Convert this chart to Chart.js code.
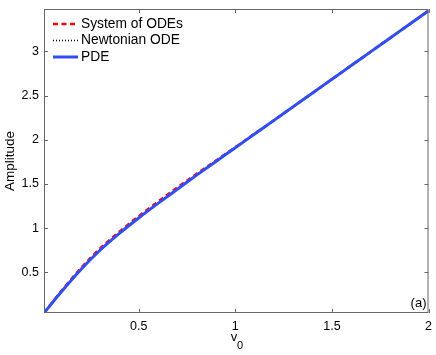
<!DOCTYPE html>
<html>
<head>
<meta charset="utf-8">
<script src="https://cdn.jsdelivr.net/npm/chart.js@4.4.0/dist/chart.umd.min.js"></script>
<style>
  html, body { margin: 0; padding: 0; background: #fff; }
</style>
</head>
<body>
<canvas id="ampChart" width="436" height="355"></canvas>
<script>
// initial velocity v0 and the resulting amplitude
const vValues = [0.01, 0.1, 0.2, 0.3, 0.4, 0.5, 0.6, 0.7, 0.8, 0.9, 1.0,
                 1.1, 1.2, 1.3, 1.4, 1.5, 1.6, 1.7, 1.8, 1.9, 2.0];
const odeSystemAmp = [0.04, 0.29, 0.545, 0.77, 0.96, 1.135, 1.30, 1.46, 1.615, 1.765, 1.915,
                      2.07, 2.22, 2.375, 2.53, 2.685, 2.84, 2.995, 3.15, 3.305, 3.46];
const newtonAmp = [0.04, 0.28, 0.53, 0.75, 0.94, 1.115, 1.28, 1.44, 1.60, 1.755, 1.91,
                   2.065, 2.22, 2.375, 2.53, 2.685, 2.84, 2.995, 3.15, 3.305, 3.46];
const pdeAmp = [0.04, 0.28, 0.53, 0.75, 0.94, 1.115, 1.28, 1.44, 1.60, 1.755, 1.91,
                2.065, 2.22, 2.375, 2.53, 2.685, 2.84, 2.995, 3.15, 3.305, 3.46];

const xTicks = [0.5, 1, 1.5, 2];
const yTicks = [0.5, 1, 1.5, 2, 2.5, 3];
const seriesNames = ['System of ODEs', 'Newtonian ODE', 'PDE'];

const FONT = 'Liberation Sans, Arial, Helvetica, sans-serif';

function toPoints(ys) {
    return vValues.map((v, i) => ({ x: v, y: ys[i] }));
}

// MATLAB-style box with inward ticks, legend, axis labels
const matlabFrame = {
    id: 'matlabFrame',
    afterDraw(chart) {
        const ctx = chart.ctx;
        const a = chart.chartArea;
        const xs = chart.scales.x, ys = chart.scales.y;
        const tl = 4;

        ctx.save();
        ctx.strokeStyle = '#666';
        ctx.lineWidth = 1;
        ctx.setLineDash([]);
        ctx.strokeRect(a.left + 0.5, a.top + 0.5, a.right - a.left - 1, a.bottom - a.top - 1);

        ctx.beginPath();
        xTicks.forEach(v => {
            const px = Math.round(xs.getPixelForValue(v)) + 0.5;
            ctx.moveTo(px, a.bottom); ctx.lineTo(px, a.bottom - tl);
            ctx.moveTo(px, a.top); ctx.lineTo(px, a.top + tl);
        });
        yTicks.forEach(v => {
            const py = Math.round(ys.getPixelForValue(v)) + 0.5;
            ctx.moveTo(a.left, py); ctx.lineTo(a.left + tl, py);
            ctx.moveTo(a.right, py); ctx.lineTo(a.right - tl, py);
        });
        ctx.stroke();

        // legend
        const rows = [24, 40.5, 57];
        ctx.font = '13.8px ' + FONT;
        ctx.textBaseline = 'middle';
        ctx.textAlign = 'left';
        seriesNames.forEach((name, i) => {
            const ds = chart.data.datasets.find(d => d.label === name);
            ctx.beginPath();
            ctx.strokeStyle = ds.borderColor;
            ctx.lineWidth = ds.borderWidth;
            ctx.setLineDash(ds.borderDash || []);
            ctx.moveTo(53, rows[i]);
            ctx.lineTo(78, rows[i]);
            ctx.stroke();
            ctx.fillStyle = '#000';
            ctx.fillText(name, 81, rows[i]);
        });
        ctx.setLineDash([]);

        // panel tag
        ctx.font = '13px ' + FONT;
        ctx.textAlign = 'right';
        ctx.fillText('(a)', a.right - 2, a.bottom - 10);

        // axis titles
        ctx.textAlign = 'center';
        ctx.font = '13px ' + FONT;
        ctx.fillText('v', 234, 337);
        ctx.font = '11px ' + FONT;
        ctx.fillText('0', 240, 346);

        ctx.translate(10, 161);
        ctx.rotate(-Math.PI / 2);
        ctx.font = '13.5px ' + FONT;
        ctx.fillText('Amplitude', 0, 0);
        ctx.restore();
    }
};

function noScalePadding(s) {
    s.paddingTop = 0;
    s.paddingBottom = 0;
    s.paddingLeft = 0;
    s.paddingRight = 0;
}

new Chart(document.getElementById('ampChart').getContext('2d'), {
    type: 'line',
    data: {
        datasets: [
            {
                label: 'PDE',
                data: toPoints(pdeAmp),
                borderColor: '#2f4ff5',
                borderWidth: 3,
                order: 0
            },
            {
                label: 'Newtonian ODE',
                data: toPoints(newtonAmp),
                borderColor: '#000',
                borderWidth: 1.5,
                borderDash: [1, 2],
                order: 1
            },
            {
                label: 'System of ODEs',
                data: toPoints(odeSystemAmp),
                borderColor: '#ff0000',
                borderWidth: 2.5,
                borderDash: [5, 3.5],
                order: 2
            }
        ]
    },
    options: {
        responsive: false,
        animation: false,
        layout: { padding: { top: 9, right: 7.5, left: 0, bottom: 0 } },
        elements: { point: { radius: 0 }, line: { cubicInterpolationMode: 'monotone', fill: false } },
        plugins: { legend: { display: false }, tooltip: { enabled: false } },
        scales: {
            x: {
                type: 'linear',
                min: 0.01,
                max: 2,
                grid: { display: false, drawTicks: false },
                border: { display: false },
                ticks: { color: '#000', font: { family: FONT, size: 12.5 }, padding: 6, maxRotation: 0, autoSkip: false,
                         callback: v => String(v) },
                afterBuildTicks: s => { s.ticks = xTicks.map(v => ({ value: v })); },
                afterFit: s => { s.height = 42; noScalePadding(s); }
            },
            y: {
                min: 0.04,
                max: 3.48,
                grid: { display: false, drawTicks: false },
                border: { display: false },
                ticks: { color: '#000', font: { family: FONT, size: 12.5 }, padding: 5, autoSkip: false,
                         callback: v => String(v) },
                afterBuildTicks: s => { s.ticks = yTicks.map(v => ({ value: v })); },
                afterFit: s => { s.width = 44; noScalePadding(s); }
            }
        }
    },
    plugins: [matlabFrame]
});
</script>
</body>
</html>
